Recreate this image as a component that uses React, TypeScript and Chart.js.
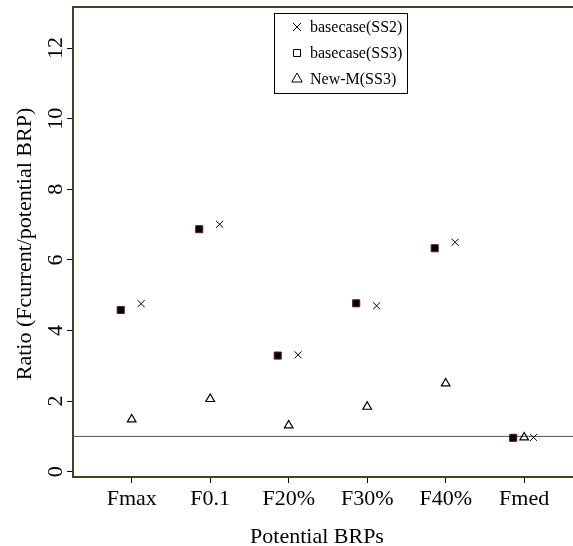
import React, { useEffect, useRef } from 'react';
import { Chart, registerables } from 'chart.js';

Chart.register(...registerables);

const categories = ['Fmax', 'F0.1', 'F20%', 'F30%', 'F40%', 'Fmed'];
const seriesNames = ['basecase(SS2)', 'basecase(SS3)', 'New-M(SS3)'];
const basecaseSS2 = [4.76, 7.01, 3.31, 4.7, 6.5, 0.97];
const basecaseSS3 = [4.58, 6.87, 3.29, 4.77, 6.33, 0.96];
const newMSS3 = [1.48, 2.06, 1.31, 1.84, 2.5, 0.97];
const yTicks = [0, 2, 4, 6, 8, 10, 12];
const referenceValue = 1;
const xTitle = 'Potential BRPs';
const yTitle = 'Ratio (Fcurrent/potential BRP)';

// layout / style constants
const X_MIN = 0.252;
const X_MAX = 6.622;
const Y_MIN = -0.15;
const Y_MAX = 13.164;
const DODGE_SS2 = 0.12;
const DODGE_SS3 = -0.14;
const DODGE_NEWM = 0;
const OLIVE = '#3b4622';
const FONT = "'Liberation Serif', 'Times New Roman', serif";

const toPoints = (vals: number[], dodge: number) =>
  vals.map((v, i) => ({ x: i + 1 + dodge, y: v }));

const framePlugin = {
  id: 'frameAndLegend',
  afterDraw(chart: any) {
    const { ctx, chartArea } = chart;
    ctx.save();
    // top frame line
    ctx.strokeStyle = OLIVE;
    ctx.lineWidth = 2;
    ctx.beginPath();
    ctx.moveTo(chartArea.left - 1, chartArea.top);
    ctx.lineTo(chart.width, chartArea.top);
    ctx.stroke();

    // axis titles
    ctx.fillStyle = '#000';
    ctx.font = `22px ${FONT}`;
    ctx.textAlign = 'center';
    ctx.textBaseline = 'middle';
    ctx.fillText(xTitle, 317, 537);
    ctx.save();
    ctx.translate(25, 244);
    ctx.rotate(-Math.PI / 2);
    ctx.fillText(yTitle, 0, 0);
    ctx.restore();

    // legend
    const bx = 274, by = 13, bw = 133, bh = 80;
    ctx.fillStyle = '#fff';
    ctx.fillRect(bx, by, bw, bh);
    ctx.strokeStyle = '#000';
    ctx.lineWidth = 1;
    ctx.strokeRect(bx + 0.5, by + 0.5, bw, bh);
    const rows = [27, 53, 79];
    const symX = 297;
    ctx.font = `16px ${FONT}`;
    ctx.textAlign = 'left';
    ctx.textBaseline = 'middle';
    rows.forEach((ry, i) => {
      ctx.strokeStyle = '#000';
      ctx.lineWidth = 1;
      ctx.beginPath();
      if (i === 0) {
        const d = 4;
        ctx.moveTo(symX - d, ry - d);
        ctx.lineTo(symX + d, ry + d);
        ctx.moveTo(symX + d, ry - d);
        ctx.lineTo(symX - d, ry + d);
      } else if (i === 1) {
        ctx.rect(symX - 3.5, ry - 3.5, 7, 7);
      } else {
        const r = 6;
        ctx.moveTo(symX, ry - r);
        ctx.lineTo(symX + r * 0.866, ry + r * 0.5);
        ctx.lineTo(symX - r * 0.866, ry + r * 0.5);
        ctx.closePath();
      }
      ctx.stroke();
      ctx.fillStyle = '#000';
      ctx.fillText(seriesNames[i], 310, ry + 1);
    });
    ctx.restore();
  },
};

export default function App() {
  const ref = useRef<HTMLCanvasElement | null>(null);
  useEffect(() => {
    if (!ref.current) return;
    const chart = new Chart(ref.current, {
      type: 'scatter',
      data: {
        datasets: [
          {
            type: 'line',
            label: 'ref',
            data: [
              { x: X_MIN, y: referenceValue },
              { x: X_MAX, y: referenceValue },
            ],
            borderColor: '#555',
            borderWidth: 1,
            pointRadius: 0,
            showLine: true,
            order: 10,
          } as any,
          {
            label: seriesNames[1],
            data: toPoints(basecaseSS3, DODGE_SS3),
            pointStyle: 'rect',
            pointRadius: 5,
            backgroundColor: '#000',
            borderColor: '#5a1c10',
            borderWidth: 1,
          },
          {
            label: seriesNames[0],
            data: toPoints(basecaseSS2, DODGE_SS2),
            pointStyle: 'crossRot',
            pointRadius: 5,
            borderColor: '#000',
            borderWidth: 1,
          },
          {
            label: seriesNames[2],
            data: toPoints(newMSS3, DODGE_NEWM),
            pointStyle: 'triangle',
            pointRadius: 5,
            backgroundColor: 'rgba(0,0,0,0)',
            borderColor: '#000',
            borderWidth: 1.2,
          },
        ],
      },
      options: {
        responsive: false,
        animation: false,
        events: [],
        layout: { autoPadding: false, padding: { top: 7, left: 0, right: 0, bottom: 0 } },
        plugins: {
          legend: { display: false },
          tooltip: { enabled: false },
        },
        scales: {
          x: {
            type: 'linear',
            min: X_MIN,
            max: X_MAX,
            afterBuildTicks: (s: any) => {
              s.ticks = categories.map((_, i) => ({ value: i + 1 }));
            },
            afterFit: (s: any) => {
              s.height = 69;
              s.paddingLeft = 0;
              s.paddingRight = 0;
            },
            grid: {
              drawOnChartArea: false,
              drawTicks: true,
              tickLength: 6,
              color: '#000',
              lineWidth: 1,
            },
            border: { display: true, color: OLIVE, width: 2 },
            ticks: {
              autoSkip: false,
              maxRotation: 0,
              minRotation: 0,
              padding: 3,
              color: '#000',
              font: { family: FONT, size: 22 },
              callback: (v: any) => categories[Math.round(Number(v)) - 1] ?? '',
            },
          },
          y: {
            type: 'linear',
            min: Y_MIN,
            max: Y_MAX,
            afterBuildTicks: (s: any) => {
              s.ticks = yTicks.map((v) => ({ value: v }));
            },
            afterFit: (s: any) => {
              s.width = 73;
              s.paddingTop = 0;
              s.paddingBottom = 0;
            },
            grid: {
              drawOnChartArea: false,
              drawTicks: true,
              tickLength: 6,
              color: '#000',
              lineWidth: 1,
            },
            border: { display: true, color: OLIVE, width: 2 },
            ticks: {
              autoSkip: false,
              minRotation: 90,
              maxRotation: 90,
              crossAlign: 'center',
              padding: 0,
              color: '#000',
              font: { family: FONT, size: 22 },
              callback: (v: any) => String(v),
            },
          },
        },
      },
      plugins: [framePlugin],
    });
    return () => chart.destroy();
  }, []);
  return (
    <div style={{ position: 'absolute', left: 0, top: 0, width: 573, height: 546, background: '#fff' }}>
      <canvas ref={ref} width={573} height={546} style={{ display: 'block' }} />
    </div>
  );
}
